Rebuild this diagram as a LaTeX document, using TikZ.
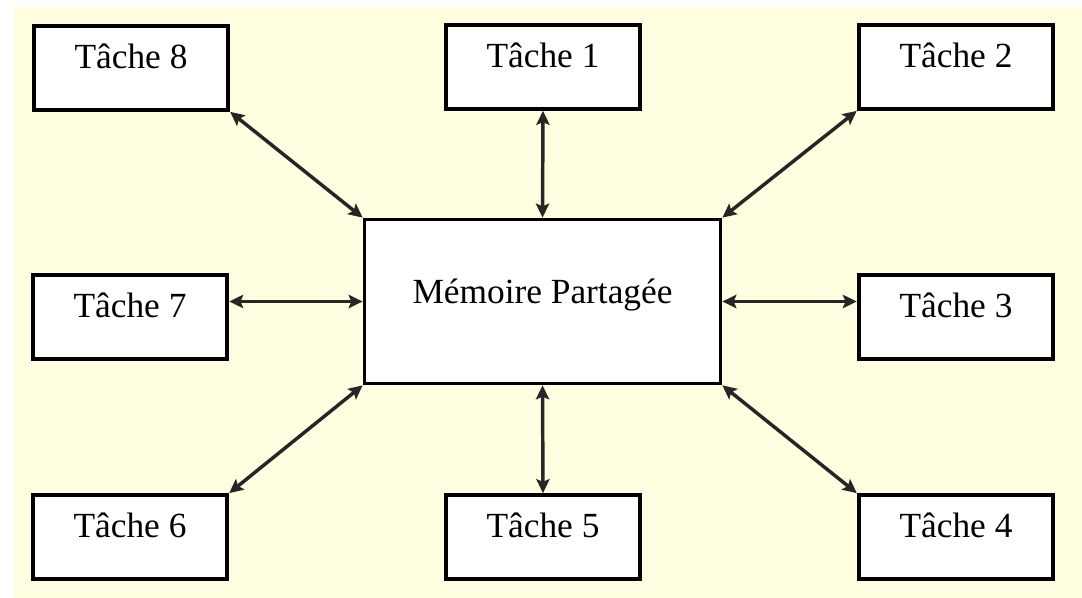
\documentclass[tikz,border=0pt]{standalone}
\usepackage{fontspec}
\setmainfont{Liberation Serif}
\usetikzlibrary{arrows.meta,positioning}
\definecolor{creme}{HTML}{FFFEE0}

\begin{document}
\begin{tikzpicture}[
      x=0.75pt, y=-0.75pt,
      >={Stealth[length=10.5pt,width=10pt,inset=2pt]},
      % les taches : texte un peu au-dessus du milieu
      tache/.style={draw=black, line width=2.8pt, fill=white, minimum width=146pt, minimum height=63pt, inner sep=0pt, font=\fontsize{26.5}{32}\selectfont, text height=0.69em, text depth=0.61em},
      memoire/.style={tache, minimum width=267pt, minimum height=123pt, text depth=0.45em},
      lien/.style={<->, line width=2.6pt, draw=black!85}
    ]
      \useasboundingbox (0,0) rectangle (1082,598);
      \fill[white] (0,0) rectangle (1082,598);
      \fill[creme] (14,7) rectangle (1082,598);

      \node[memoire] (mem) at (542.5,301.5) {Mémoire Partagée};

      \node[tache] (t8) at (131,68) {Tâche 8};
      \node[tache] (t1) at (543,67) {Tâche 1};
      \node[tache] (t2) at (956,67) {Tâche 2};
      \node[tache] (t7) at (130,317) {Tâche 7};
      \node[tache] (t3) at (956,317) {Tâche 3};
      \node[tache] (t6) at (130,537) {Tâche 6};
      \node[tache] (t5) at (543,537) {Tâche 5};
      \node[tache] (t4) at (956,537) {Tâche 4};

      \draw[lien] (t8.south east) -- (mem.north west);
      \draw[lien] (t1.south) -- (mem.north);
      \draw[lien] (t2.south west) -- (mem.north east);
      \draw[lien] (t7.east |- mem.west) -- (mem.west);
      \draw[lien] (mem.east) -- (t3.west |- mem.east);
      \draw[lien] (t6.north east) -- (mem.south west);
      \draw[lien] (t5.north) -- (mem.south);
      \draw[lien] (t4.north west) -- (mem.south east);
    \end{tikzpicture}
\end{document}
